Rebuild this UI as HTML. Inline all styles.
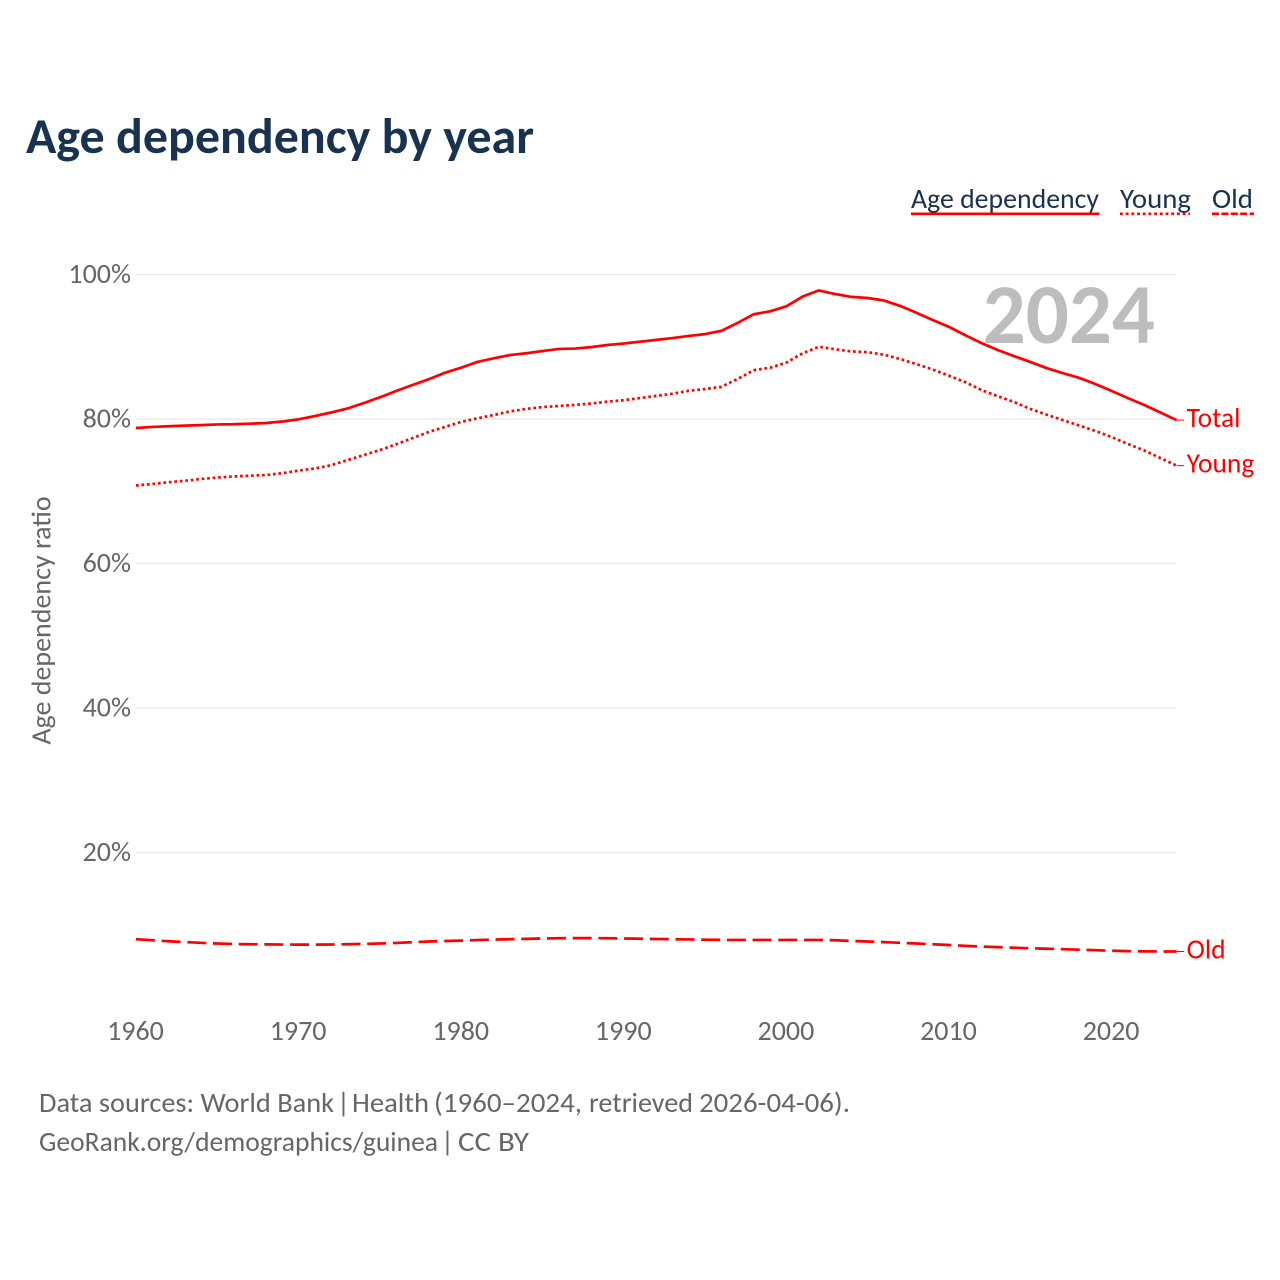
<!DOCTYPE html>
<html lang="en">
<head>
<meta charset="utf-8">
<title>Age dependency by year</title>
<style>
html,body{margin:0;padding:0;background:#fff;width:1280px;height:1280px;overflow:hidden}
svg{display:block}
text{font-family:"Carlito","Lato","Liberation Sans",sans-serif}
</style>
</head>
<body>
<svg id="chart" xmlns="http://www.w3.org/2000/svg" width="1280" height="1280" viewBox="0 0 1280 1280">
  <rect width="1280" height="1280" fill="#fff"/>
  <text x="26" y="153" font-size="50" font-weight="700" fill="#18324f" textLength="508" lengthAdjust="spacingAndGlyphs">Age dependency by year</text>
  <g id="grid"></g>
  <g id="yticks"></g>
  <g id="xticks"></g>
  <text transform="translate(50.5,620.5) rotate(-90)" text-anchor="middle" font-size="28" fill="#666">Age dependency ratio</text>
  <text x="1155" y="343" text-anchor="end" font-size="85" font-weight="700" fill="#bdbdbd">2024</text>
  <g id="series"></g>
  <g font-size="28" fill="#18324f">
    <g>
      <text x="911" y="208" textLength="188" lengthAdjust="spacingAndGlyphs">Age dependency</text>
      <line x1="911" x2="1099.5" y1="213.8" y2="213.8" stroke="#f00" stroke-width="2.7"/>
    </g>
    <g>
      <text x="1120" y="208" textLength="71" lengthAdjust="spacingAndGlyphs">Young</text>
      <line x1="1120" x2="1190" y1="213.8" y2="213.8" stroke="#f00" stroke-width="2.7" stroke-dasharray="2.8 2.9"/>
    </g>
    <g>
      <text x="1212" y="208" textLength="41" lengthAdjust="spacingAndGlyphs">Old</text>
      <line x1="1212" x2="1254" y1="213.8" y2="213.8" stroke="#f00" stroke-width="2.7" stroke-dasharray="7 2.4"/>
    </g>
  </g>
  <g font-size="28" fill="#666">
    <text y="1112">
      <tspan x="39" textLength="295" lengthAdjust="spacingAndGlyphs">Data sources: World Bank</tspan>
      <tspan x="337">|</tspan>
      <tspan x="352" textLength="77" lengthAdjust="spacingAndGlyphs">Health</tspan>
      <tspan x="434" textLength="148" lengthAdjust="spacingAndGlyphs">(1960–2024,</tspan>
      <tspan x="589" textLength="104" lengthAdjust="spacingAndGlyphs">retrieved</tspan>
      <tspan x="699" textLength="151" lengthAdjust="spacingAndGlyphs">2026-04-06).</tspan>
    </text>
    <text y="1151">
      <tspan x="39" textLength="399" lengthAdjust="spacingAndGlyphs">GeoRank.org/demographics/guinea</tspan>
      <tspan x="441">|</tspan>
      <tspan x="458" textLength="71" lengthAdjust="spacingAndGlyphs">CC BY</tspan>
    </text>
  </g>
</svg>
<script>
const startYear = 1960;
const totalValues = [78.75,78.9,79.0,79.08,79.15,79.25,79.27,79.35,79.45,79.65,79.95,80.4,80.9,81.45,82.2,83.0,83.87,84.7,85.5,86.4,87.1,87.9,88.4,88.85,89.1,89.4,89.7,89.75,89.95,90.25,90.45,90.7,90.95,91.2,91.5,91.75,92.2,93.3,94.5,94.9,95.6,96.95,97.8,97.3,96.9,96.75,96.4,95.65,94.7,93.7,92.75,91.6,90.5,89.55,88.7,87.9,87.05,86.35,85.7,84.85,83.9,82.9,81.95,80.9,79.85];
const youngValues = [70.8,71.0,71.25,71.45,71.7,71.9,72.05,72.15,72.25,72.5,72.85,73.15,73.6,74.3,75.0,75.7,76.5,77.35,78.2,78.9,79.6,80.1,80.55,81.05,81.4,81.65,81.8,81.95,82.15,82.4,82.6,82.9,83.2,83.5,83.9,84.15,84.45,85.55,86.75,87.1,87.8,89.1,90.0,89.65,89.35,89.25,88.9,88.3,87.6,86.85,86.0,85.1,84.0,83.15,82.35,81.4,80.6,79.85,79.1,78.35,77.5,76.55,75.65,74.6,73.55];
const oldValues = [8.0,7.85,7.72,7.6,7.5,7.4,7.33,7.3,7.28,7.26,7.25,7.25,7.27,7.3,7.35,7.4,7.48,7.58,7.68,7.75,7.8,7.88,7.95,8.0,8.05,8.1,8.13,8.15,8.15,8.13,8.1,8.07,8.03,8.0,7.97,7.93,7.9,7.9,7.9,7.9,7.9,7.9,7.9,7.85,7.75,7.68,7.6,7.5,7.4,7.3,7.2,7.08,6.98,6.9,6.82,6.75,6.68,6.62,6.55,6.48,6.4,6.35,6.32,6.3,6.3];
const yTickValues = [20,40,60,80,100];
const xTickValues = [1960,1970,1980,1990,2000,2010,2020];
const seriesLabels = ["Total","Young","Old"];

const SVG_NS = "http://www.w3.org/2000/svg";
function xScale(year){ return 136 + (year - 1960) * 16.26; }
function yScale(v){ return 274.5 + (100 - v) * 7.225; }
function mk(tag, attrs, parent){
  const el = document.createElementNS(SVG_NS, tag);
  for (const k in attrs) el.setAttribute(k, attrs[k]);
  parent.appendChild(el);
  return el;
}
const grid = document.getElementById("grid");
const yticks = document.getElementById("yticks");
const xticks = document.getElementById("xticks");
const series = document.getElementById("series");

yTickValues.forEach(function(v){
  const ln = mk("line", {x1:136, x2:1176, y1:yScale(v), y2:yScale(v), stroke:"#e6e6e6", "stroke-width":1.2}, grid);
  
  
  const t = mk("text", {x:131, y:yScale(v)+8.5, "text-anchor":"end", "font-size":28, fill:"#666"}, yticks);
  
  
  t.textContent = v + "%";
});
xTickValues.forEach(function(y){
  const t = mk("text", {x:xScale(y)-0.5, y:1040, "text-anchor":"middle", "font-size":28, fill:"#666"}, xticks);
  
  
  t.textContent = y;
});

function drawSeries(values, dash, width, label){
  const pts = values.map(function(v,i){ return xScale(startYear+i).toFixed(2)+","+yScale(v).toFixed(2); }).join(" ");
  const attrs = {points:pts, fill:"none", stroke:"#f00", "stroke-width":width, "stroke-linejoin":"round"};
  if (dash) attrs["stroke-dasharray"] = dash;
  const line = mk("polyline", attrs, series);
  
  
  const lastX = xScale(startYear+values.length-1);
  const lastY = yScale(values[values.length-1]);
  const conn = mk("line", {x1:lastX, x2:lastX+7.5, y1:lastY, y2:lastY, stroke:"#f00", "stroke-width":1}, series);
  
  
  const t = mk("text", {x:lastX+10, y:lastY+7, "font-size":27.5, fill:"#f00"}, series);
  
  
  t.textContent = label;
}
drawSeries(totalValues, "", 2.7, seriesLabels[0]);
drawSeries(youngValues, "2.7 2.8", 2.7, seriesLabels[1]);
drawSeries(oldValues, "19 6.7", 2.7, seriesLabels[2]);
</script>
</body>
</html>
